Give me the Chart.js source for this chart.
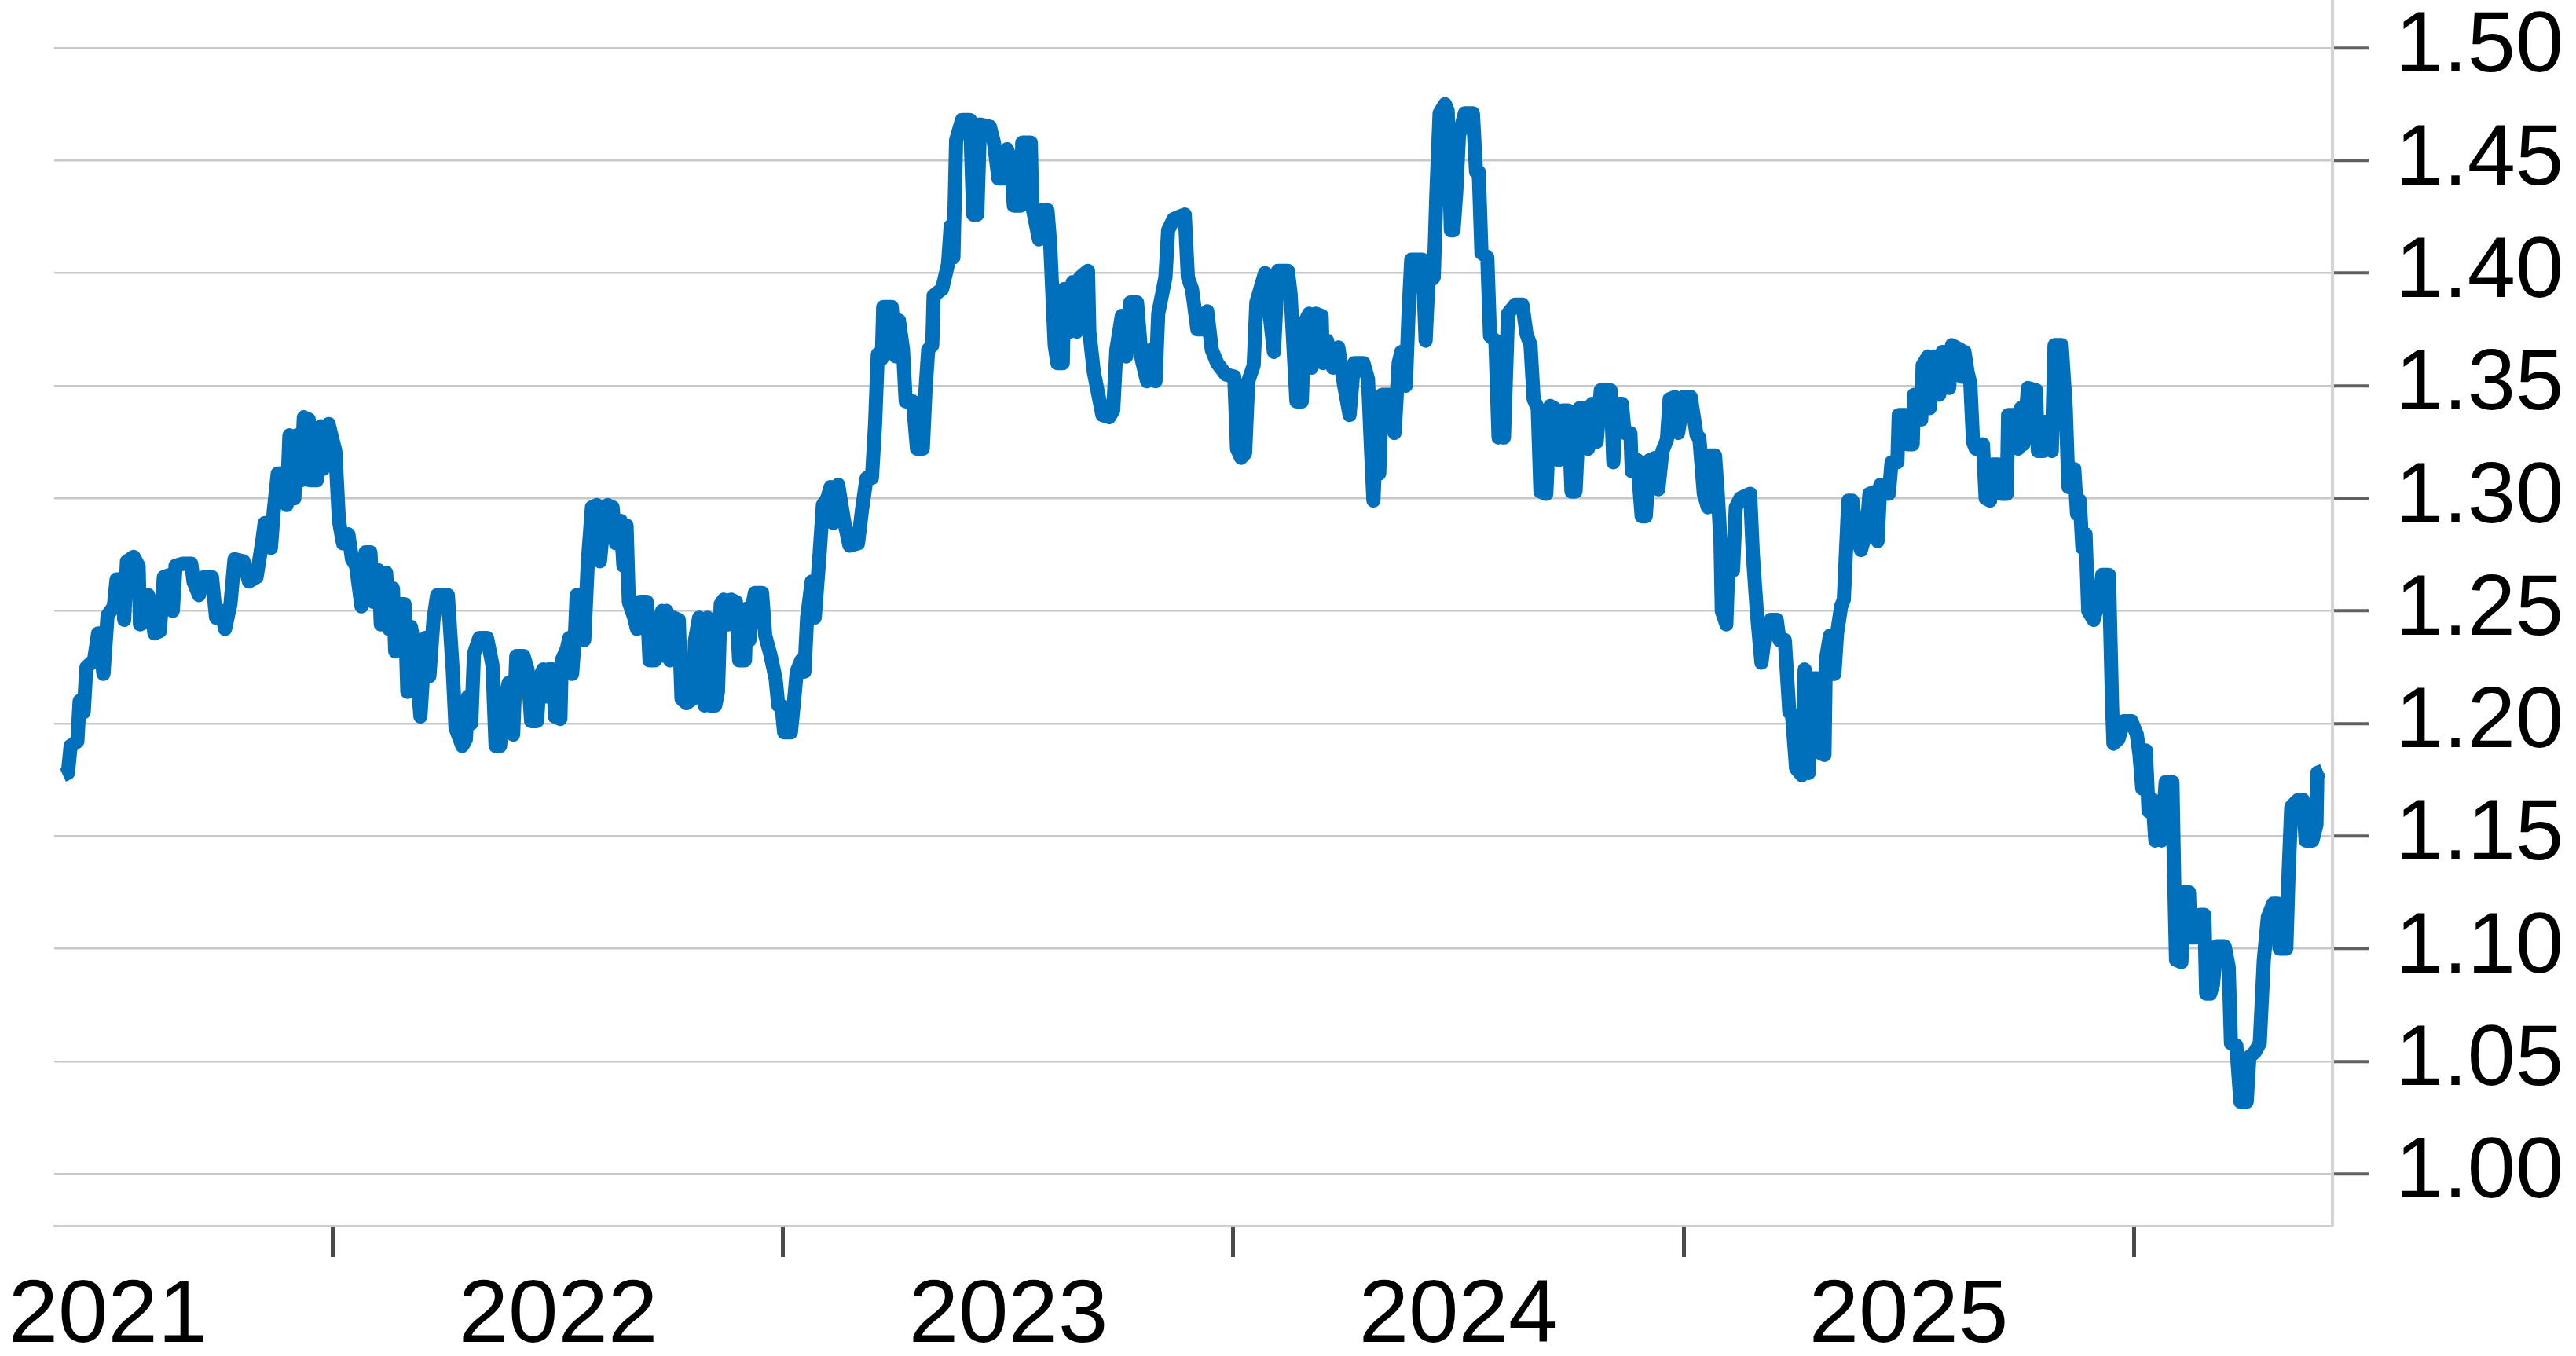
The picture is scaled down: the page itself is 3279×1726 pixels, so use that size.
<!DOCTYPE html>
<html>
<head>
<meta charset="utf-8">
<script src="https://cdn.jsdelivr.net/npm/chart.js@4.4.1/dist/chart.umd.min.js"></script>
<style>
  html, body { margin: 0; padding: 0; background: #fff; }
  #wrap { width: 3279px; height: 1726px; }
</style>
</head>
<body>
<div id="wrap"><canvas id="myChart" width="3279" height="1726"></canvas></div>
<script>
// [decimal year, rate]
var rates2021 = [
  [2020.900,1.177],[2020.911,1.178],[2020.917,1.190],[2020.932,1.192],[2020.937,1.210],[2020.946,1.205],
  [2020.952,1.225],[2020.969,1.228],[2020.978,1.240],[2020.990,1.222],[2020.999,1.248],[2021.013,1.252],
  [2021.019,1.264],[2021.033,1.264],[2021.036,1.246],[2021.042,1.272],[2021.057,1.274],[2021.068,1.270],
  [2021.071,1.244],[2021.080,1.245],[2021.089,1.257],[2021.097,1.252],[2021.103,1.240],[2021.115,1.241],
  [2021.124,1.265],[2021.138,1.266],[2021.144,1.250],[2021.150,1.270],[2021.167,1.271],[2021.185,1.271],
  [2021.190,1.263],[2021.202,1.257],[2021.214,1.265],[2021.231,1.265],[2021.240,1.247],[2021.252,1.250],
  [2021.260,1.242],[2021.272,1.253],[2021.281,1.273],[2021.301,1.272],[2021.313,1.263],[2021.330,1.265],
  [2021.342,1.280],[2021.348,1.289],[2021.362,1.278],[2021.368,1.294],[2021.377,1.311],[2021.388,1.311],
  [2021.397,1.297],[2021.403,1.328],[2021.414,1.300],[2021.420,1.328],[2021.429,1.308],[2021.435,1.336],
  [2021.446,1.335],[2021.449,1.308],[2021.464,1.308],[2021.473,1.332],[2021.478,1.313],[2021.490,1.333],
  [2021.505,1.321],[2021.513,1.290],[2021.522,1.280],[2021.534,1.284],[2021.542,1.273],[2021.551,1.270],
  [2021.563,1.252],[2021.572,1.276],[2021.583,1.276],[2021.589,1.254],[2021.601,1.268],[2021.606,1.244],
  [2021.618,1.267],[2021.624,1.242],[2021.633,1.260],[2021.638,1.232],[2021.647,1.253],[2021.659,1.253],
  [2021.665,1.214],[2021.673,1.243],[2021.682,1.233],[2021.694,1.203],[2021.705,1.238],[2021.714,1.221],
  [2021.723,1.246],[2021.731,1.257],[2021.755,1.257],[2021.766,1.223],[2021.772,1.198],[2021.787,1.190],
  [2021.795,1.193],[2021.800,1.212],[2021.807,1.200],[2021.813,1.231],[2021.825,1.238],[2021.842,1.238],
  [2021.854,1.226],[2021.861,1.190],[2021.871,1.190],[2021.878,1.208],[2021.890,1.218],[2021.900,1.195],
  [2021.907,1.230],[2021.923,1.230],[2021.932,1.224],[2021.940,1.201],[2021.953,1.201],[2021.960,1.221],
  [2021.967,1.224],[2021.973,1.212],[2021.979,1.224],[2021.988,1.224],[2021.993,1.203]
];

var rates2022 = [
  [2022.005,1.202],[2022.008,1.228],[2022.019,1.233],[2022.025,1.238],[2022.031,1.222],[2022.037,1.238],
  [2022.041,1.257],[2022.051,1.257],[2022.058,1.237],[2022.066,1.272],[2022.075,1.296],[2022.086,1.297],
  [2022.093,1.272],[2022.099,1.285],[2022.110,1.297],[2022.121,1.296],[2022.128,1.280],[2022.139,1.290],
  [2022.145,1.270],[2022.152,1.288],[2022.157,1.254],[2022.169,1.247],[2022.175,1.242],[2022.182,1.254],
  [2022.197,1.254],[2022.203,1.228],[2022.215,1.228],[2022.223,1.245],[2022.231,1.250],[2022.236,1.230],
  [2022.241,1.250],[2022.249,1.228],[2022.256,1.247],[2022.268,1.246],[2022.274,1.211],[2022.285,1.209],
  [2022.299,1.211],[2022.304,1.237],[2022.313,1.247],[2022.320,1.222],[2022.325,1.208],[2022.332,1.247],
  [2022.338,1.208],[2022.349,1.208],[2022.355,1.214],[2022.361,1.253],[2022.368,1.255],[2022.377,1.244],
  [2022.384,1.255],[2022.395,1.254],[2022.402,1.228],[2022.415,1.228],[2022.419,1.251],[2022.425,1.237],
  [2022.431,1.252],[2022.437,1.258],[2022.453,1.258],[2022.460,1.239],[2022.471,1.231],[2022.483,1.220],
  [2022.489,1.208],[2022.496,1.208],[2022.502,1.196],[2022.517,1.196],[2022.524,1.210],[2022.530,1.223],
  [2022.540,1.228],[2022.547,1.223],[2022.553,1.247],[2022.563,1.263],[2022.570,1.247],[2022.581,1.276],
  [2022.588,1.297],[2022.598,1.300],[2022.605,1.305],[2022.611,1.289],[2022.622,1.306],[2022.635,1.290],
  [2022.647,1.279],[2022.666,1.280],[2022.675,1.295],[2022.685,1.309],[2022.697,1.309],[2022.704,1.333],
  [2022.710,1.364],[2022.719,1.362],[2022.722,1.385],[2022.741,1.385],[2022.750,1.363],[2022.757,1.379],
  [2022.766,1.366],[2022.772,1.343],[2022.788,1.343],[2022.797,1.322],[2022.810,1.322],[2022.816,1.348],
  [2022.822,1.366],[2022.831,1.368],[2022.834,1.390],[2022.853,1.393],[2022.866,1.404],[2022.872,1.421],
  [2022.878,1.407],[2022.884,1.459],[2022.897,1.468],[2022.915,1.468],[2022.922,1.426],[2022.931,1.426],
  [2022.937,1.466],[2022.959,1.465],[2022.968,1.458],[2022.978,1.442],[2022.990,1.442],[2022.997,1.455]
];

var rates2023 = [
  [2023.006,1.450],[2023.012,1.430],[2023.028,1.430],[2023.031,1.458],[2023.050,1.458],[2023.053,1.430],
  [2023.068,1.415],[2023.074,1.428],[2023.087,1.428],[2023.093,1.413],[2023.103,1.368],[2023.109,1.360],
  [2023.121,1.360],[2023.124,1.393],[2023.137,1.374],[2023.143,1.396],[2023.152,1.374],[2023.159,1.398],
  [2023.177,1.401],[2023.180,1.374],[2023.190,1.356],[2023.199,1.347],[2023.209,1.337],[2023.224,1.336],
  [2023.233,1.339],[2023.240,1.366],[2023.252,1.381],[2023.262,1.363],[2023.271,1.387],[2023.286,1.387],
  [2023.296,1.362],[2023.308,1.352],[2023.318,1.366],[2023.327,1.352],[2023.333,1.382],[2023.349,1.398],
  [2023.355,1.419],[2023.367,1.424],[2023.392,1.426],[2023.399,1.398],[2023.408,1.393],[2023.420,1.375],
  [2023.433,1.375],[2023.442,1.383],[2023.452,1.366],[2023.464,1.360],[2023.483,1.355],[2023.502,1.354],
  [2023.508,1.322],[2023.517,1.318],[2023.526,1.320],[2023.533,1.352],[2023.545,1.359],[2023.551,1.387],
  [2023.570,1.400],[2023.590,1.365],[2023.599,1.401],[2023.621,1.401],[2023.627,1.391],[2023.633,1.369],
  [2023.640,1.343],[2023.652,1.343],[2023.658,1.378],[2023.668,1.382],[2023.674,1.358],[2023.683,1.382],
  [2023.696,1.381],[2023.699,1.360],[2023.708,1.370],[2023.721,1.358],[2023.733,1.367],[2023.746,1.350],
  [2023.758,1.337],[2023.768,1.360],[2023.789,1.360],[2023.799,1.353],[2023.805,1.325],[2023.811,1.299],
  [2023.817,1.327],[2023.824,1.311],[2023.830,1.346],[2023.849,1.346],[2023.858,1.329],[2023.867,1.360],
  [2023.873,1.365],[2023.883,1.350],[2023.889,1.382],[2023.895,1.406],[2023.920,1.406],[2023.927,1.370],
  [2023.933,1.396],[2023.945,1.398],[2023.951,1.436],[2023.958,1.471],[2023.970,1.475],[2023.976,1.472],
  [2023.983,1.419],[2023.989,1.419],[2023.995,1.436]
];

var rates2024 = [
  [2024.001,1.461],[2024.014,1.471],[2024.032,1.471],[2024.039,1.445],[2024.045,1.445],[2024.051,1.409],
  [2024.064,1.407],[2024.070,1.372],[2024.082,1.370],[2024.089,1.327],[2024.095,1.345],[2024.101,1.327],
  [2024.110,1.382],[2024.126,1.386],[2024.142,1.386],[2024.151,1.373],[2024.160,1.368],[2024.167,1.344],
  [2024.176,1.340],[2024.182,1.303],[2024.195,1.302],[2024.204,1.341],[2024.213,1.340],[2024.223,1.317],
  [2024.232,1.339],[2024.244,1.339],[2024.251,1.303],[2024.260,1.303],[2024.269,1.340],[2024.282,1.340],
  [2024.288,1.322],[2024.297,1.342],[2024.307,1.325],[2024.316,1.348],[2024.338,1.348],[2024.344,1.316],
  [2024.350,1.342],[2024.363,1.342],[2024.369,1.329],[2024.382,1.329],[2024.385,1.312],[2024.397,1.317],
  [2024.407,1.292],[2024.416,1.292],[2024.425,1.317],[2024.438,1.318],[2024.444,1.304],[2024.453,1.321],
  [2024.463,1.326],[2024.469,1.344],[2024.481,1.345],[2024.488,1.329],[2024.500,1.345],[2024.516,1.345],
  [2024.529,1.328],[2024.535,1.327],[2024.545,1.302],[2024.554,1.296],[2024.557,1.319],[2024.570,1.319],
  [2024.576,1.302],[2024.582,1.281],[2024.585,1.250],[2024.595,1.244],[2024.601,1.278],[2024.610,1.268],
  [2024.616,1.296],[2024.626,1.300],[2024.648,1.302],[2024.654,1.275],[2024.663,1.249],[2024.673,1.227],
  [2024.682,1.241],[2024.694,1.246],[2024.707,1.246],[2024.713,1.237],[2024.725,1.237],[2024.735,1.205],
  [2024.741,1.204],[2024.750,1.180],[2024.763,1.177],[2024.769,1.224],[2024.778,1.178],[2024.785,1.220],
  [2024.797,1.220],[2024.803,1.187],[2024.813,1.186],[2024.816,1.228],[2024.825,1.239],[2024.835,1.222],
  [2024.841,1.240],[2024.850,1.252],[2024.856,1.255],[2024.866,1.299],[2024.875,1.299],[2024.884,1.284],
  [2024.894,1.277],[2024.906,1.285],[2024.913,1.302],[2024.928,1.303],[2024.931,1.281],[2024.937,1.306],
  [2024.956,1.302],[2024.962,1.316],[2024.975,1.316],[2024.978,1.337],[2024.994,1.337],[2024.997,1.324]
];

var rates2025 = [
  [2025.009,1.324],[2025.012,1.346],[2025.028,1.335],[2025.031,1.359],[2025.043,1.363],[2025.047,1.340],
  [2025.056,1.363],[2025.068,1.346],[2025.075,1.365],[2025.090,1.349],[2025.096,1.368],[2025.115,1.366],
  [2025.118,1.354],[2025.124,1.365],[2025.131,1.356],[2025.137,1.351],[2025.143,1.325],[2025.149,1.322],
  [2025.165,1.324],[2025.171,1.300],[2025.181,1.299],[2025.187,1.315],[2025.199,1.315],[2025.206,1.302],
  [2025.218,1.302],[2025.221,1.337],[2025.237,1.337],[2025.243,1.322],[2025.249,1.340],[2025.255,1.324],
  [2025.265,1.349],[2025.283,1.348],[2025.287,1.321],[2025.299,1.321],[2025.305,1.334],[2025.318,1.321],
  [2025.324,1.368],[2025.340,1.368],[2025.349,1.340],[2025.355,1.305],[2025.368,1.313],[2025.374,1.293],
  [2025.380,1.299],[2025.386,1.278],[2025.393,1.284],[2025.399,1.250],[2025.411,1.246],[2025.424,1.256],
  [2025.430,1.266],[2025.445,1.266],[2025.452,1.208],[2025.455,1.191],[2025.466,1.193],[2025.478,1.201],
  [2025.495,1.201],[2025.507,1.195],[2025.513,1.186],[2025.519,1.171],[2025.527,1.188],[2025.533,1.161],
  [2025.542,1.166],[2025.548,1.148],[2025.554,1.165],[2025.562,1.148],[2025.571,1.174],[2025.586,1.174],
  [2025.590,1.130],[2025.594,1.095],[2025.606,1.094],[2025.612,1.125],[2025.623,1.125],[2025.626,1.105],
  [2025.638,1.105],[2025.647,1.115],[2025.657,1.115],[2025.661,1.080],[2025.670,1.080],[2025.676,1.084],
  [2025.684,1.101],[2025.702,1.101],[2025.711,1.092],[2025.716,1.058],[2025.728,1.057],[2025.737,1.032],
  [2025.751,1.032],[2025.757,1.052],[2025.769,1.054],[2025.780,1.058],[2025.789,1.095],[2025.798,1.114],
  [2025.810,1.120],[2025.821,1.120],[2025.824,1.100],[2025.839,1.100],[2025.844,1.133],[2025.850,1.163],
  [2025.865,1.166],[2025.876,1.166],[2025.882,1.148],[2025.897,1.148],[2025.906,1.155],[2025.908,1.178],
  [2025.920,1.179]
];

var yearLabels = [2021, 2022, 2023, 2024, 2025];
var yearTicks = [2021.5, 2022.5, 2023.5, 2024.5, 2025.5];
var yTicks = [1.00, 1.05, 1.10, 1.15, 1.20, 1.25, 1.30, 1.35, 1.40, 1.45, 1.50];

var points = [].concat(rates2021, rates2022, rates2023, rates2024, rates2025).map(function (p) {
  return { x: p[0], y: p[1] };
});

var family = "'Liberation Sans', Arial, sans-serif";

var ctx = document.getElementById('myChart').getContext('2d');
var myChart = new Chart(ctx, {
  type: 'line',
  data: {
    datasets: [{
      data: points,
      borderColor: '#0070bd',
      borderWidth: 18,
      borderJoinStyle: 'round',
      borderCapStyle: 'butt',
      pointRadius: 0,
      tension: 0,
      fill: false
    }]
  },
  options: {
    responsive: false,
    devicePixelRatio: 1,
    animation: false,
    layout: { padding: { left: 69, top: 0, right: 0, bottom: 0 } },
    plugins: { legend: { display: false }, tooltip: { enabled: false } },
    scales: {
      x: {
        type: 'linear',
        min: 2020.8805,
        max: 2025.9415,
        afterBuildTicks: function (scale) {
          scale.ticks = yearLabels.concat(yearTicks).sort().map(function (v) { return { value: v }; });
        },
        afterFit: function (scale) {
          scale.height = 166;
          scale.paddingLeft = 0;
          scale.paddingRight = 0;
        },
        border: { display: true, color: '#cccccc', width: 3 },
        grid: {
          drawOnChartArea: false,
          drawTicks: true,
          tickLength: 40,
          tickWidth: 5,
          tickColor: function (c) {
            return (c.tick && c.tick.value % 1 === 0) ? 'rgba(0,0,0,0)' : '#4a4a4a';
          }
        },
        ticks: {
          autoSkip: false,
          maxRotation: 0,
          padding: 8,
          color: '#000000',
          font: { family: family, size: 114 },
          callback: function (v) { return v % 1 === 0 ? String(v) : ''; }
        }
      },
      y: {
        position: 'right',
        min: 0.977,
        max: 1.5213,
        afterBuildTicks: function (scale) {
          scale.ticks = yTicks.map(function (v) { return { value: v }; });
        },
        afterFit: function (scale) {
          scale.width = 310;
          scale.paddingTop = 0;
          scale.paddingBottom = 0;
        },
        border: { display: true, color: '#d4d4d4', width: 4 },
        grid: {
          color: '#c8c8c8',
          lineWidth: 2.5,
          drawTicks: true,
          tickLength: 46,
          tickWidth: 4,
          tickColor: '#606060'
        },
        ticks: {
          padding: 34,
          color: '#000000',
          font: { family: family, size: 110 },
          callback: function (v) { return Number(v).toFixed(2); }
        }
      }
    }
  }
});
</script>
</body>
</html>
